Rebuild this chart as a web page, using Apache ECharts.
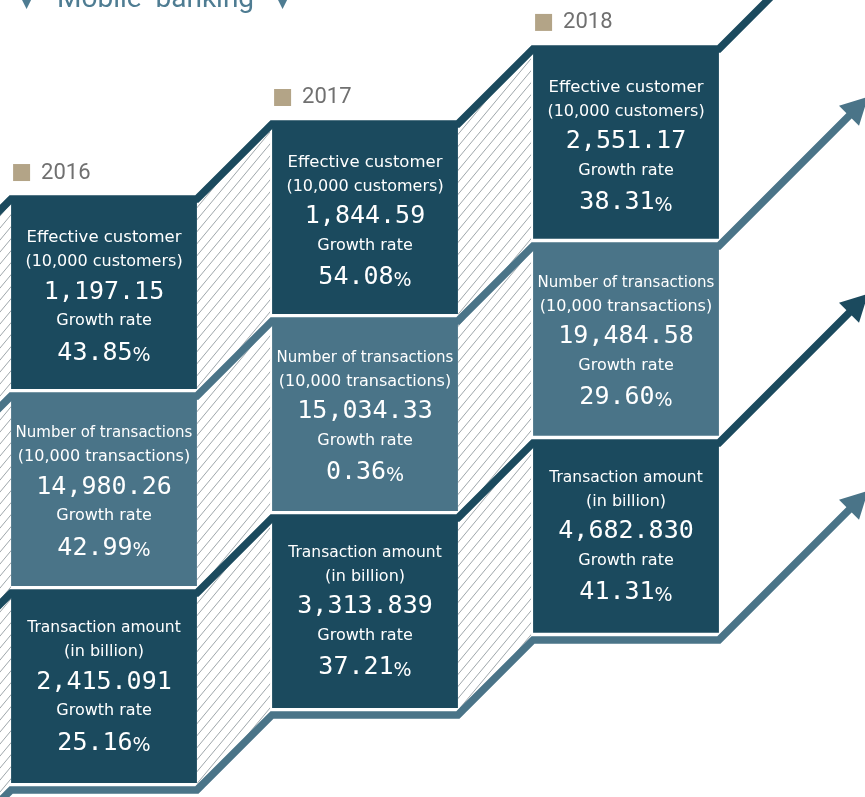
<!DOCTYPE html>
<html>
<head>
<meta charset="utf-8">
<title>Mobile banking</title>
<script src="https://cdn.jsdelivr.net/npm/echarts@6/dist/echarts.min.js"></script>
<style>
html, body { margin: 0; padding: 0; background: #fff; }
#main { width: 865px; height: 797px; }
</style>
</head>
<body>
<div id="main"></div>
<script>
// data
var years = ['2016', '2017', '2018'];
var metricNames = ['Effective customer', 'Number of transactions', 'Transaction amount'];
var metricUnits = ['(10,000 customers)', '(10,000 transactions)', '(in billion)'];
var customers = [1197.15, 1844.59, 2551.17];
var customerGrowth = [43.85, 54.08, 38.31];
var transactions = [14980.26, 15034.33, 19484.58];
var transactionGrowth = [42.99, 0.36, 29.60];
var amounts = [2415.091, 3313.839, 4682.830];
var amountGrowth = [25.16, 37.21, 41.31];
var decimals = [2, 2, 3];

var rowValues = [customers, transactions, amounts];
var rowGrowth = [customerGrowth, transactionGrowth, amountGrowth];

// layout / style
var DARK = '#1b4a5e', LIGHT = '#4a7488', TAN = '#b3a487', HATCH = '#9ea6ab';
var STEP = 0.381;          // each year column sits higher (in row units)
var HALF_W = 0.356, HALF_H = 0.477;
var LINE_W = 7.5, LINE_SHIFT = 2.5;
var TEXT_OFF = [35, 59, 89, 118, 150];
var ROW_SHIFT = [2, 0, -2];
var LABEL_SIZE = [16.5, 15, 15.5];
var rowColor = [DARK, LIGHT, DARK];
var lineColor = [DARK, LIGHT, DARK, LIGHT];

function fmt(v, d) {
  var parts = v.toFixed(d).split('.');
  parts[0] = parts[0].replace(/\B(?=(\d{3})+(?!\d))/g, ',');
  return parts.join('.');
}

// hatch tile
var TW = 10, TH = 12;
var tile = document.createElement('canvas');
tile.width = TW; tile.height = TH;
(function () {
  var g = tile.getContext('2d');
  g.strokeStyle = HATCH;
  g.lineWidth = 1;
  for (var n = 0; n <= 2; n++) {
    g.beginPath();
    g.moveTo(-TW, TH * (n + 1));
    g.lineTo(TW * (n + 1), -TH);
    g.stroke();
  }
})();

var cells = [];
for (var r = 0; r < metricNames.length; r++) {
  for (var c = 0; c < years.length; c++) {
    cells.push([c, r, rowValues[r][c], rowGrowth[r][c]]);
  }
}

function boundary(api, k) {
  var pts = [];
  for (var c = 0; c < years.length; c++) {
    var v = k - 0.5 - c * STEP;
    var a = api.coord([c - HALF_W, v]);
    var b = api.coord([c + HALF_W, v]);
    pts.push([a[0], a[1] + LINE_SHIFT], [b[0], b[1] + LINE_SHIFT]);
  }
  return pts;
}

function renderHatch(params, api) {
  var top = boundary(api, 0), bot = boundary(api, 3);
  var fill = { image: tile, repeat: 'repeat' };
  var children = [{
    type: 'polygon',
    shape: { points: [[top[0][0] - 80, top[0][1] + 80], top[0], bot[0], [bot[0][0] - 80, bot[0][1] + 80]] },
    style: { fill: fill }
  }];
  for (var c = 0; c < years.length - 1; c++) {
    var a = top[c * 2 + 1], b = top[c * 2 + 2], d = bot[c * 2 + 2], e = bot[c * 2 + 1];
    children.push({
      type: 'polygon',
      shape: { points: [a, [b[0] - 2, b[1]], [d[0] - 2, d[1]], e] },
      style: { fill: fill }
    });
  }
  return { type: 'group', children: children };
}

function renderLine(params, api) {
  var k = api.value(0);
  var pts = boundary(api, k);
  var first = pts[0], last = pts[pts.length - 1];
  pts.unshift([first[0] - 80, first[1] + 80]);
  var children = [];
  if (k === 0) {
    pts.push([last[0] + 120, last[1] - 120]);
  } else {
    var tipX = 868, L = tipX - last[0];
    var tip = [tipX, last[1] - L];
    var head = 19, half = 10;
    var base = [tip[0] - head, tip[1] + head];
    pts.push([base[0] + 2, base[1] - 2]);
    children.push({
      type: 'polygon',
      shape: { points: [tip, [base[0] + half, base[1] + half], [base[0] - half, base[1] - half]] },
      style: { fill: lineColor[k] }
    });
  }
  children.unshift({
    type: 'polyline',
    shape: { points: pts },
    style: { stroke: lineColor[k], lineWidth: LINE_W, fill: null, lineJoin: 'miter' }
  });
  return { type: 'group', children: children };
}

function renderCell(params, api) {
  var c = api.value(0), r = api.value(1);
  var p = api.coord([c, r - c * STEP]);
  var o = api.coord([0, 0]), u = api.coord([1, 1]);
  var w = (u[0] - o[0]) * HALF_W * 2, h = (u[1] - o[1]) * HALF_H * 2;
  var x0 = p[0] - w / 2, y0 = p[1] - h / 2, cx = p[0];
  var lines = [
    { text: metricNames[r], fontSize: LABEL_SIZE[r], fontFamily: 'DejaVu Sans' },
    { text: metricUnits[r], fontSize: 16, fontFamily: 'DejaVu Sans' },
    { text: fmt(api.value(2), decimals[r]), fontSize: 25, fontFamily: 'DejaVu Sans Mono' },
    { text: 'Growth rate', fontSize: 16, fontFamily: 'DejaVu Sans' },
    { text: '{n|' + fmt(api.value(3), 2) + '}{p|%}' }
  ];
  var children = [{
    type: 'rect',
    shape: { x: x0, y: y0, width: w, height: h },
    style: { fill: rowColor[r] }
  }];
  lines.forEach(function (ln, i) {
    var st = {
      text: ln.text, fill: '#fff', align: 'center', verticalAlign: 'middle',
      fontSize: ln.fontSize, fontFamily: ln.fontFamily
    };
    if (i === 4) {
      st.rich = {
        n: { fontSize: 25, fontFamily: 'DejaVu Sans Mono', fill: '#fff' },
        p: { fontSize: 19, fontFamily: 'DejaVu Sans', fill: '#fff', verticalAlign: 'bottom' }
      };
    }
    children.push({ type: 'text', x: cx, y: y0 + TEXT_OFF[i] + ROW_SHIFT[r], style: st });
  });
  if (r === 0) {
    children.push({
      type: 'rect', shape: { x: x0 + 2, y: y0 - 37, width: 17, height: 17 },
      style: { fill: TAN }
    });
    children.push({
      type: 'text', x: x0 + 30, y: y0 - 28,
      style: { text: years[c], fill: '#707070', fontSize: 22, fontFamily: 'Roboto', verticalAlign: 'middle' }
    });
  }
  return { type: 'group', children: children };
}

var chart = echarts.init(document.getElementById('main'));
chart.setOption({
  backgroundColor: '#fff',
  animation: false,
  grid: { left: 0, right: 0, top: 0, bottom: 0 },
  xAxis: { type: 'value', min: -0.3985, max: 2.9157, show: false },
  yAxis: { type: 'value', inverse: true, min: -1.4975, max: 2.5482, show: false },
  graphic: [
    { type: 'text', left: 20, top: -6, style: { text: '▼', fill: '#4e7c92', fontSize: 17, fontFamily: 'DejaVu Sans' } },
    { type: 'text', left: 57, top: -14, style: { text: 'Mobile  banking', fill: '#4e7c92', fontSize: 28, fontFamily: 'Roboto' } },
    { type: 'text', left: 276, top: -6, style: { text: '▼', fill: '#4e7c92', fontSize: 17, fontFamily: 'DejaVu Sans' } }
  ],
  series: [
    { type: 'custom', silent: true, z: 1, data: [[0]], renderItem: renderHatch },
    { type: 'custom', silent: true, z: 2, data: [[0], [1], [2], [3]], renderItem: renderLine },
    { type: 'custom', silent: true, z: 3, data: cells, renderItem: renderCell }
  ]
});
</script>
</body>
</html>
